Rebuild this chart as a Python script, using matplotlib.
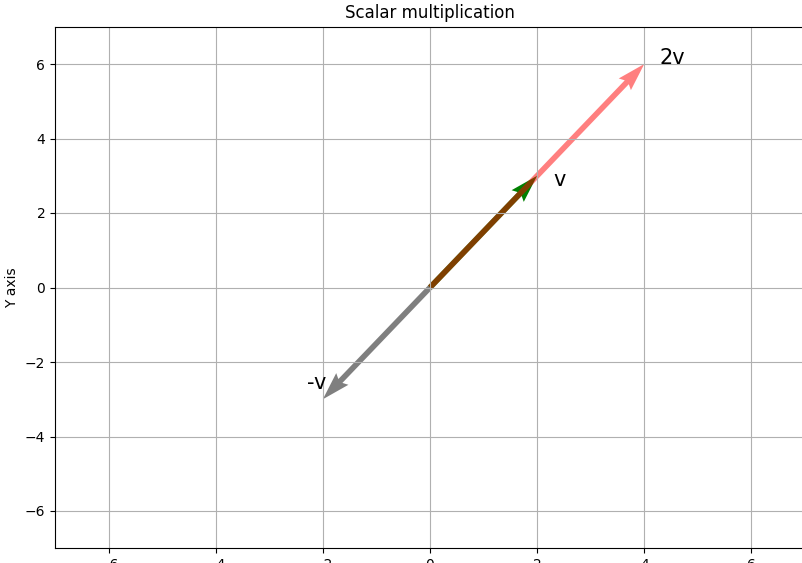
import numpy as np
import matplotlib.pyplot as plt

# vectors: v, 2v, -v
v = np.array([2, 3])
vecs = [v, 2 * v, -v]
names = ["v", "2v", "-v"]
cols = ["green", "red", "black"]
alphas = [1.0, 0.5, 0.5]
# label anchor points
lab_x = [2.3, 4.28, -2.3]
lab_y = [2.72, 6.0, -2.72]

fig = plt.figure(figsize=(8.02, 5.63), dpi=100)
ax = fig.add_axes([55 / 802, 14.75 / 563, 750 / 802, 521.5 / 563])

for vec, c, a in zip(vecs, cols, alphas):
    ax.quiver(0, 0, vec[0], vec[1], angles='xy', scale_units='xy', scale=1,
              color=c, alpha=a, width=0.0075)

for n, x, y in zip(names, lab_x, lab_y):
    ax.text(x, y, n, fontsize=15)

ax.set_xlim(-7, 7)
ax.set_ylim(-7, 7)
ax.set_xticks(np.arange(-6, 7, 2))
ax.set_yticks(np.arange(-6, 7, 2))
ax.grid(True)
ax.set_title("Scalar multiplication")
ax.set_ylabel("Y axis")
ax.set_xlabel("X axis")

fig.savefig("out.png", dpi=100)
